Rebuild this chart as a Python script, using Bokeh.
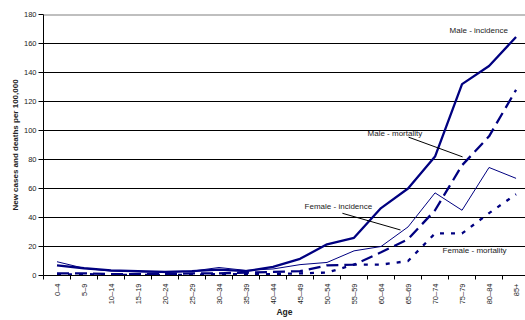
from math import pi
from bokeh.plotting import figure
from bokeh.models import Range1d, FixedTicker, Label, Span
from bokeh.embed import file_html
from bokeh.resources import INLINE

# ---- data ----
ages = ["0\u20134", "5\u20139", "10\u201314", "15\u201319", "20\u201324", "25\u201329",
        "30\u201334", "35\u201339", "40\u201344", "45\u201349", "50\u201354", "55\u201359",
        "60\u201364", "65\u201369", "70\u201374", "75\u201379", "80\u201384", "85+"]
male_incidence = [7, 5, 3.5, 3, 2.5, 3, 4, 3, 6, 11.5, 21.5, 26, 46.5, 60, 82, 132, 144.5, 164.5]
male_mortality = [1.5, 1.5, 1, 1, 1, 1.5, 1.5, 2, 2.5, 3, 7, 7.5, 16, 25, 45, 76, 96, 128]
female_incidence = [9.5, 5, 3, 2.5, 2, 3, 5.5, 3.5, 4.5, 7.5, 9, 17, 20, 33.5, 57, 45, 74.5, 67]
female_mortality = [0.5, 1, 0.5, 0.5, 0.5, 0.5, 1, 1, 1, 1.5, 2, 7.5, 7.5, 10, 29, 29, 43, 56]
y_ticks = [0, 20, 40, 60, 80, 100, 120, 140, 160, 180]

xs = list(range(len(ages)))
NAVY = "#000080"
FONT = "Liberation Sans"
TXT = "#222222"

p = figure(width=525, height=320, output_backend="svg", toolbar_location=None,
           x_range=Range1d(-0.5, 17.35), y_range=Range1d(0, 180),
           min_border_left=43, min_border_top=14, min_border_right=0, min_border_bottom=40)
p.outline_line_color = None
p.background_fill_color = "white"

p.xgrid.visible = False
p.ygrid.ticker = FixedTicker(ticks=y_ticks)
p.ygrid.grid_line_color = "black"
p.ygrid.grid_line_width = 1

# axes
p.yaxis.ticker = FixedTicker(ticks=y_ticks)
p.yaxis.axis_line_color = "black"
p.yaxis.major_tick_line_color = "black"
p.yaxis.major_tick_out = 5
p.yaxis.major_tick_in = 0
p.yaxis.minor_tick_line_color = None
p.yaxis.major_label_text_font = FONT
p.yaxis.major_label_text_font_size = "7.5px"
p.yaxis.major_label_text_color = TXT
p.yaxis.major_label_standoff = 2
p.yaxis.axis_label = "New cases and deaths per 100,000"
p.yaxis.axis_label_text_font = FONT
p.yaxis.axis_label_text_font_size = "8px"
p.yaxis.axis_label_text_font_style = "bold"
p.yaxis.axis_label_text_color = TXT
p.yaxis.axis_label_standoff = 1

p.xaxis.ticker = FixedTicker(ticks=xs, minor_ticks=[i - 0.5 for i in range(len(ages) + 1)])
p.xaxis.major_label_overrides = {i: a for i, a in enumerate(ages)}
p.xaxis.major_label_orientation = pi / 2
p.xaxis.axis_line_color = "black"
p.xaxis.major_tick_in = 0
p.xaxis.major_tick_out = 0
p.xaxis.minor_tick_in = 0
p.xaxis.minor_tick_out = 4
p.xaxis.minor_tick_line_color = "black"
p.xaxis.major_label_text_font = FONT
p.xaxis.major_label_text_font_size = "7.5px"
p.xaxis.major_label_text_color = TXT
p.xaxis.major_label_standoff = 4
p.xaxis.axis_label = "Age"
p.xaxis.axis_label_text_font = FONT
p.xaxis.axis_label_text_font_size = "8.5px"
p.xaxis.axis_label_text_font_style = "bold"
p.xaxis.axis_label_text_color = TXT
p.xaxis.axis_label_standoff = 0

p.add_layout(Span(location=180, dimension="width", line_color="#808080", line_width=2))

# series
p.line(xs, female_mortality, line_color=NAVY, line_width=2.3, line_dash="4 7")
p.line(xs, male_mortality, line_color=NAVY, line_width=2.3, line_dash="12 6")
p.line(xs, female_incidence, line_color=NAVY, line_width=1)
p.line(xs, male_incidence, line_color=NAVY, line_width=2.3)

# annotations
labels = [("Male - incidence", 14.54, 169), ("Male - mortality", 11.5, 98.2),
          ("Female - incidence", 9.17, 47.7), ("Female - mortality", 14.28, 17)]
for t, lx, ly in labels:
    p.add_layout(Label(x=lx, y=ly, text=t, text_font=FONT, text_font_size="8px",
                       text_color=TXT, text_baseline="middle", text_align="left"))
p.segment(x0=[13.02, 10.57], y0=[95.4, 42.9], x1=[15.02, 12.72], y1=[81.8, 31.4],
          line_color="black", line_width=1)

open("out.html", "w").write(file_html(p, INLINE))
